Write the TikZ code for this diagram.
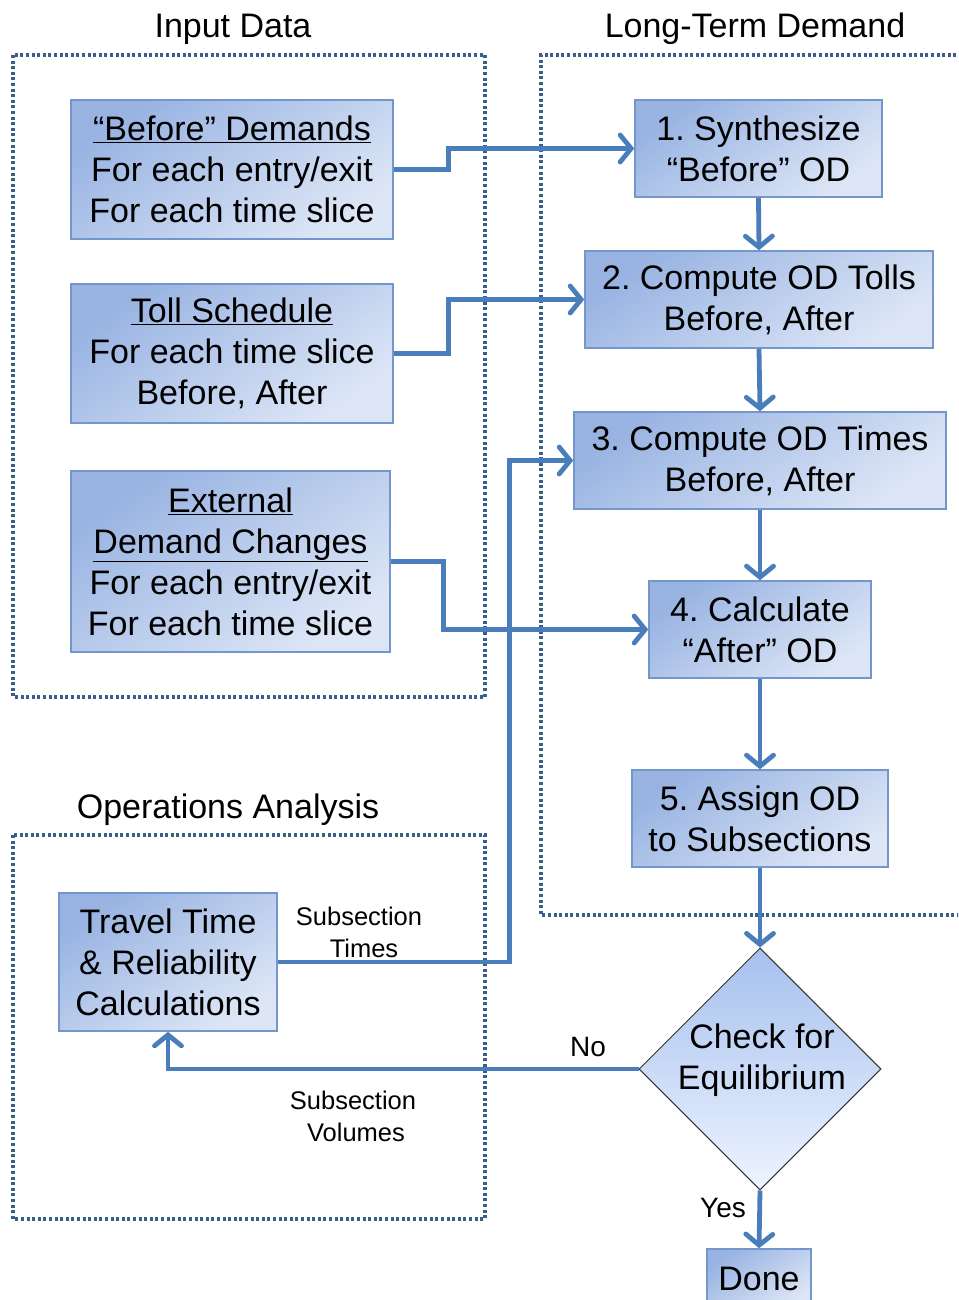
\documentclass[tikz,border=0pt]{standalone}
\usepackage{fontspec}
\setmainfont{Liberation Sans}
\frenchspacing
\usetikzlibrary{arrows.meta,shapes.geometric}
\definecolor{arrowc}{HTML}{4A7EBB}
\definecolor{boxline}{HTML}{7396CD}
\definecolor{boxdark}{HTML}{98B3E2}
\definecolor{boxlight}{HTML}{DDE6F6}
\definecolor{dotc}{HTML}{3A5F8C}
\definecolor{diadark}{HTML}{A6C0EE}
\definecolor{dialight}{HTML}{EEF4FF}
\tikzset{
  bigfont/.style={font=\fontsize{34}{41}\selectfont},
  smallfont/.style={font=\fontsize{25.5}{32}\selectfont},
  stepbox/.style={draw=boxline, line width=1.5pt, top color=boxdark, bottom color=boxlight, shading angle=35, inner sep=0pt, align=center, bigfont},
  conn/.style={draw=arrowc, line width=4.8pt, -{Straight Barb[length=11pt,width=27pt,line cap=round]}},
  group/.style={draw=dotc, line width=3.3pt, dash pattern=on 3pt off 2.6pt},
  title/.style={bigfont, inner sep=0pt},
  lbl/.style={smallfont, inner sep=0pt, align=center}
}
\begin{document}
\begin{tikzpicture}[x=1pt,y=-1pt]
\useasboundingbox (0,0) rectangle (958,1300);
\clip (0,0) rectangle (958,1300);
\fill[white] (0,0) rectangle (958,1300);

% group frames
\draw[group] (13,55) rectangle (485,697);
\draw[group] (962,55) -- (541,55) -- (541,915) -- (962,915);
\draw[group] (13,835) rectangle (485,1219);

\node[title] (tin) at (233,29) {Input Data};
\node[title] (tlt) at (755,29) {Long-Term Demand};
\node[title] (top) at (228,810) {Operations Analysis};

% input boxes
\node[stepbox, minimum width=322pt, minimum height=139pt] (bd) at (232,169.5)
  {\underline{“Before” Demands}\\For each entry/exit\\For each time slice};
\node[stepbox, minimum width=322pt, minimum height=139pt] (ts) at (232,353.5)
  {\underline{Toll Schedule}\\For each time slice\\Before, After};
\node[stepbox, minimum width=319pt, minimum height=181pt] (ex) at (230.5,561.5)
  {\underline{External}\\\underline{Demand Changes}\\For each entry/exit\\For each time slice};

% long-term steps
\node[stepbox, minimum width=247pt, minimum height=97pt] (s1) at (758.5,148.5)
  {1. Synthesize\\“Before” OD};
\node[stepbox, minimum width=348pt, minimum height=97pt] (s2) at (759,299.5)
  {2. Compute OD Tolls\\Before, After};
\node[stepbox, minimum width=372pt, minimum height=97pt] (s3) at (760,460.5)
  {3. Compute OD Times\\Before, After};
\node[stepbox, minimum width=222pt, minimum height=97pt] (s4) at (760,629.5)
  {4. Calculate\\“After” OD};
\node[stepbox, minimum width=256pt, minimum height=97pt] (s5) at (760,818.5)
  {5. Assign OD\\to Subsections};

% operations
\node[stepbox, minimum width=218pt, minimum height=138pt] (tt) at (168,962)
  {Travel Time\\\& Reliability\\Calculations};

\node[diamond, draw=black!80, line width=1pt, top color=diadark, bottom color=dialight,
      minimum width=242pt, minimum height=242pt, inner sep=0pt] (ck) at (760,1069) {};
\node[bigfont, align=center, inner sep=0pt] (cktxt) at (762,1060) {Check for\\Equilibrium};

\node[stepbox, minimum width=104pt, minimum height=60pt] (dn) at (759,1279) {Done};

% connectors
\draw[conn] (bd.east) -- ++(55,0) |- (s1.west);
\draw[conn] (ts.east) -- ++(55,0) |- (s2.west);
\draw[conn] (ex.east) -- ++(53,0) |- (s4.west);
\draw[conn] (tt.east) -- ++(232,0) |- (s3.west);
\draw[conn] (s1.south) -- (s2.north);
\draw[conn] (s2.south) -- (s3.north);
\draw[conn] (s3.south) -- (s4.north);
\draw[conn] (s4.south) -- (s5.north);
\draw[conn] (s5.south) -- (ck.north);
\draw[conn] (ck.west) -| (tt.south);
\draw[conn] (ck.south) -- (dn.north);

% labels
\node[lbl] (l1) at (359,932) {Subsection\\\hspace*{10pt}Times};
\node[lbl] (l2) at (353,1116) {Subsection\\\hspace*{6pt}Volumes};
\node[lbl, font=\fontsize{28}{32}\selectfont] (lno) at (588,1047) {No};
\node[lbl, font=\fontsize{28}{32}\selectfont] (lyes) at (723,1208) {Yes};
\end{tikzpicture}
\end{document}
